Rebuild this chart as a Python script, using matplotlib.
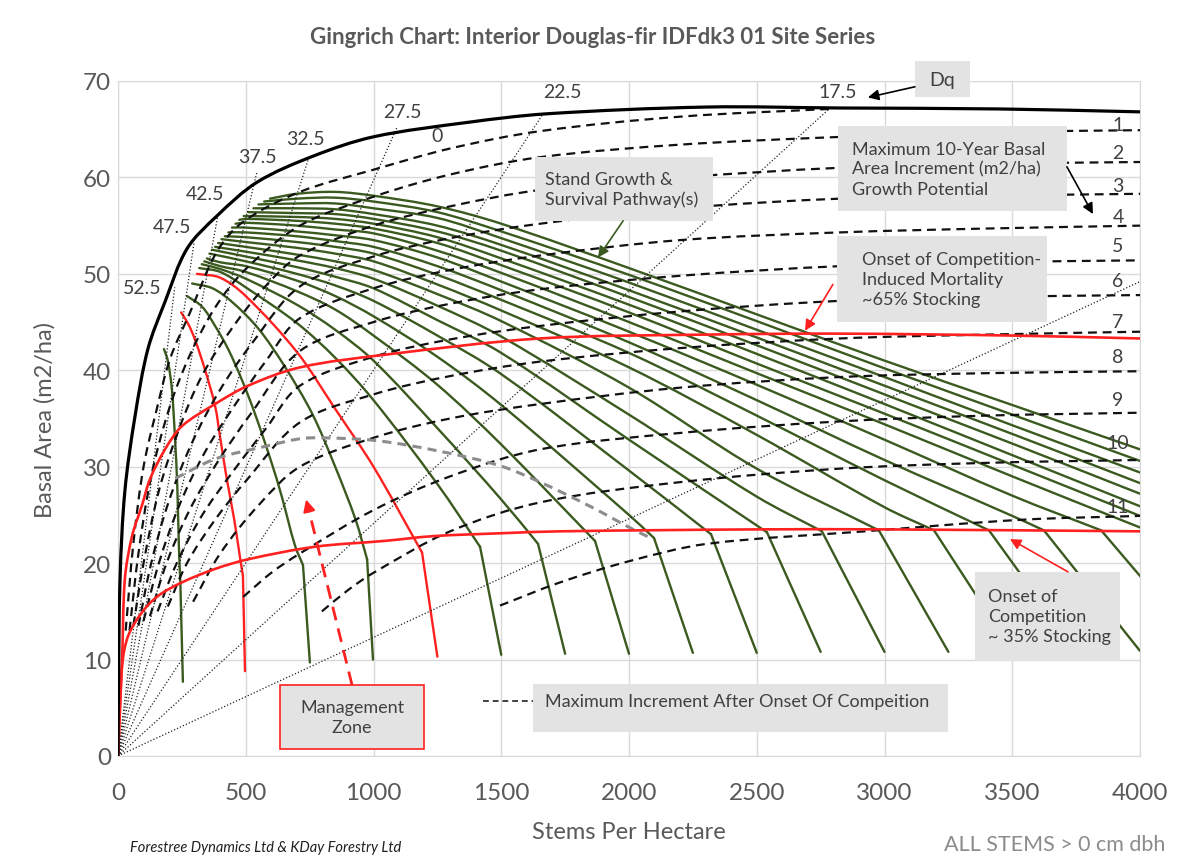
import numpy as np
import matplotlib.pyplot as plt
from matplotlib.path import Path
from matplotlib.patches import PathPatch, Rectangle

plt.rcParams['font.family'] = ['Lato', 'DejaVu Sans']

GRID = '#d9d9d9'
TXT = '#595959'
GREEN = '#3b5a1f'
RED = '#ff2020'
BOXC = '#e3e3e3'

# maximum basal area envelope
env_n = [0, 2, 8, 27, 67, 117, 184, 270, 387, 544, 763, 998, 1366, 1679, 2305, 2826, 3452, 4000]
env_ba = [0, 7, 18.4, 27.5, 35.3, 42.2, 47.1, 52.6, 56.0, 59.5, 62.2, 64.2, 65.7, 66.6, 67.3, 67.2, 67.1, 66.8]

# onset of competition-induced mortality (~65% stocking)
mort_n = [0, 16, 27, 55, 94, 125, 184, 250, 380, 509, 712, 1041, 1652, 2300, 2826, 3500, 4000]
mort_ba = [0, 10, 18.4, 22.8, 26.0, 28.7, 31.8, 34.2, 36.5, 38.4, 40.3, 41.6, 43.3, 43.7, 43.8, 43.6, 43.3]

# onset of competition (~35% stocking)
comp_n = [0, 16, 39, 94, 157, 250, 380, 509, 771, 1041, 1233, 1500, 1730, 2500, 3000, 4000]
comp_ba = [0, 9.3, 12.4, 14.9, 16.6, 18.0, 19.4, 20.4, 21.7, 22.3, 22.8, 23.1, 23.3, 23.5, 23.5, 23.3]

# quadratic mean diameter rays (cm)
dq_labels = ['52.5', '47.5', '42.5', '37.5', '32.5', '27.5', '22.5', '17.5', '12.5']
dq_end_n = [222, 298, 392, 544, 745, 1092, 1664, 2783, 4000]
dq_end_ba = [48.6, 53.3, 56.2, 60.6, 61.9, 65.2, 66.6, 67.1, 49.2]
dq_txt_n = [94, 211, 341, 544, 732, 1112, 1738, 2818, None]
dq_txt_ba = [48.6, 54.9, 58.3, 62.2, 64.0, 66.8, 68.9, 68.9, None]

# maximum 10-year basal area increment curves (m2/ha)
inc_labels = ['0', '1', '2', '3', '4', '5', '6', '7', '8', '9', '10', '11']
inc_n = [
    [30, 60, 100, 152, 204, 282, 387, 490, 712, 1000, 1300, 1652, 2200, 2783],
    [45, 80, 130, 200, 280, 380, 500, 712, 1000, 1300, 1652, 2200, 2826, 3400, 4000],
    [60, 100, 160, 240, 330, 450, 580, 712, 1000, 1300, 1652, 2200, 2826, 3400, 4000],
    [80, 130, 200, 290, 400, 530, 712, 1000, 1300, 1652, 2200, 2826, 3400, 4000],
    [100, 160, 240, 340, 460, 580, 712, 1000, 1300, 1652, 2200, 2826, 3400, 4000],
    [125, 190, 280, 390, 520, 712, 1000, 1300, 1652, 2200, 2826, 3400, 4000],
    [155, 230, 330, 450, 580, 712, 1000, 1300, 1652, 2200, 2826, 3400, 4000],
    [195, 270, 380, 500, 712, 1000, 1300, 1652, 2200, 2826, 3400, 4000],
    [294, 400, 550, 712, 1000, 1300, 1652, 2200, 2826, 3400, 4000],
    [490, 600, 712, 1000, 1300, 1652, 2200, 2826, 3400, 4000],
    [798, 900, 1000, 1300, 1652, 2200, 2826, 3400, 4000],
    [1495, 1730, 2000, 2305, 2924, 3538, 4000],
]
inc_ba = [
    [13, 22, 30, 36, 41.2, 46, 52.3, 55.4, 58.5, 60.8, 63.0, 64.8, 66.3, 67.1],
    [13, 21, 29, 36, 41.5, 46.5, 50.5, 55.0, 58.0, 60.3, 62.1, 63.4, 64.2, 64.7, 64.9],
    [13.5, 20, 27.5, 34, 39.5, 44.5, 48.8, 51.9, 55.0, 57.0, 58.7, 60.0, 61.0, 61.4, 61.6],
    [13.5, 20, 26.5, 32.5, 38, 43, 48.7, 51.8, 53.7, 55.2, 56.8, 57.8, 58.1, 58.3],
    [14, 20, 26, 31.5, 36.5, 41, 45.4, 48.5, 50.4, 51.9, 53.5, 54.3, 54.7, 55.0],
    [14.5, 20, 25.5, 30.5, 35.5, 42, 45.0, 46.9, 48.4, 49.8, 50.8, 51.2, 51.4],
    [15, 20, 25, 29.5, 34, 38.4, 41.4, 43.2, 44.6, 46.1, 47.2, 47.6, 47.8],
    [15.5, 20, 24.5, 28.5, 34.6, 37.5, 39.4, 40.9, 42.3, 43.3, 43.7, 44.0],
    [16, 21, 26, 30, 33.0, 35.0, 36.5, 38.2, 39.3, 39.7, 39.9],
    [16.5, 19, 21, 25.5, 29.0, 31.8, 33.5, 34.7, 35.3, 35.6],
    [15, 17.2, 19, 23.3, 26.3, 28.4, 29.8, 30.4, 30.7],
    [15.6, 18.0, 20.2, 22.0, 23.3, 24.5, 24.9],
]
inc_lab_ba = [None, 65.5, 62.6, 59.2, 55.9, 52.9, 49.3, 45.1, 41.4, 37.0, 32.5, 25.9]

# maximum increment after onset of competition
gray_n = [225, 380, 575, 712, 800, 1013, 1260, 1495, 1652, 1847, 2016, 2094]
gray_ba = [28.8, 30.8, 32.1, 32.9, 33.0, 32.7, 31.6, 30.1, 28.4, 25.9, 23.5, 22.5]

# low-density stand pathways: start, onset point, then pathway
low_red = [False, True, False, False]
low_base = [(254, 7.7), (497, 8.8), (751, 9.7), (998, 10.0)]
low_kink = [(244, 18.0), (489, 18.7), (724, 19.8), (975, 20.4)]
low_path_n = [
    [238, 232, 223, 211, 195, 180],
    [478, 455, 426, 400, 380, 340, 301, 275, 247],
    [693, 640, 600, 536, 485, 431, 380, 329, 270],
    [930, 850, 760, 650, 550, 450, 370, 290],
]
low_path_ba = [
    [22, 28, 33, 38, 41, 42.2],
    [20.5, 24.5, 28.7, 33.0, 36.3, 40.1, 43.2, 44.8, 46.0],
    [21.8, 27, 30.5, 35.5, 39, 42.2, 44.6, 46.6, 47.7],
    [24.5, 30, 35.5, 40.5, 44.3, 47, 48.5, 49.0],
]

# stand growth & survival pathways, N0 = 1250 ... 6250 stems/ha
pw_n0 = [1250, 1500, 1750, 2000, 2250, 2500, 2750, 3000, 3250, 3500, 3750,
         4000, 4250, 4500, 4750, 5000, 5250, 5500, 5750, 6000, 6250]
pw_base_ba = [10.3, 10.5, 10.6, 10.6, 10.7, 10.7, 10.8, 10.8, 10.8, 10.9, 10.9,
              10.9, 10.9, None, None, None, None, None, None, None, None]
pw_kink_n = [1190, 1417, 1644, 1867, 2098, 2321, 2540, 2755, 2978, 3194, 3409,
             3624, 3848, None, None, None, None, None, None, None, None]
pw_kink_ba = [21.1, 21.7, 22.0, 22.3, 22.6, 23.0, 23.2, 23.3, 23.4, 23.4, 23.4,
              23.4, 23.4, None, None, None, None, None, None, None, None]
pw_cols = [4000, 3500, 3000, 2500, 2000, 1500, 1250, 1000, 850, 700, 500, 400]
_ = None
pw_ba = [
    [_, _, _, _, _, _, _, 30.0, 36.0, 41.9, 47.7, 49.6],
    [_, _, _, _, _, _, 28.2, 36.9, 41.3, 44.9, 48.6, 50.2],
    [_, _, _, _, _, 26.6, 34.0, 41.0, 44.2, 46.8, 49.5, 50.5],
    [_, _, _, _, _, 32.3, 38.5, 43.6, 46.3, 48.2, 50.2, 50.8],
    [_, _, _, _, 25.0, 36.4, 41.4, 45.6, 47.7, 49.3, 50.8, 51.2],
    [_, _, _, _, 29.6, 39.6, 43.6, 47.2, 48.8, 50.0, 51.3, _],
    [_, _, _, _, 32.8, 41.8, 45.2, 48.5, 49.7, 50.7, 51.8, _],
    [_, _, _, 26.9, 35.4, 43.5, 46.7, 49.5, 50.6, 51.4, 52.3, _],
    [_, _, _, 29.8, 38.2, 45.1, 47.9, 50.4, 51.3, 52.0, 52.8, _],
    [_, _, 25.8, 33.3, 40.3, 46.2, 48.9, 51.3, 52.1, 52.7, 53.3, _],
    [_, _, 28.6, 35.3, 41.8, 47.3, 49.9, 52.1, 52.8, 53.3, 53.8, _],
    [_, 24.9, 30.7, 36.9, 42.9, 48.3, 50.8, 52.8, 53.4, 53.9, 54.3, _],
    [_, 27.0, 32.8, 38.5, 44.0, 49.2, 51.7, 53.5, 54.0, 54.4, 54.8, _],
    [23.7, 29.0, 34.4, 39.7, 45.0, 50.1, 52.4, 54.2, 54.6, 55.0, 55.3, _],
    [24.9, 30.2, 35.5, 40.7, 46.0, 50.9, 53.2, 54.7, 55.2, 55.5, 55.7, _],
    [25.9, 31.2, 36.5, 41.7, 46.8, 51.6, 53.8, 55.2, 55.7, 55.9, _, _],
    [27.2, 32.4, 37.5, 42.6, 47.6, 52.4, 54.4, 55.7, 56.2, 56.3, _, _],
    [28.3, 33.4, 38.4, 43.4, 48.3, 53.0, 55.0, 56.2, 56.7, 56.8, _, _],
    [29.4, 34.3, 39.3, 44.2, 49.1, 53.7, 55.8, 56.8, 57.3, 57.3, _, _],
    [30.6, 35.4, 40.2, 45.1, 49.9, 54.4, 56.4, 57.5, 57.9, 57.8, _, _],
    [31.8, 36.4, 41.0, 45.8, 50.6, 55.2, 57.0, 58.1, 58.5, 58.3, _, _],
]
pw_top_n = [309, 318, 328, 338, 348, 358, 368, 380, 392, 405, 418, 432, 446, 460, 475, 492, 510, 530, 550, 572, 595]
pw_top_ba = [50.0, 50.6, 51.0, 51.3, 51.6, 52.1, 52.5, 52.8, 53.2, 53.6, 53.9, 54.3, 54.8, 55.2, 55.6, 56.0, 56.4, 56.8, 57.2, 57.5, 57.8]

# scale used to keep curve smoothing isotropic on screen
SX, SY = 1022 / 4000, 675 / 70


def smooth_path(xs, ys):
    p = np.column_stack([np.asarray(xs, float) * SX, np.asarray(ys, float) * SY])
    n = len(p)
    if n < 3:
        return Path(np.column_stack([xs, ys]))
    d = np.hypot(*np.diff(p, axis=0).T)
    d[d == 0] = 1e-6
    m = np.zeros_like(p)
    m[0] = (p[1] - p[0]) / d[0]
    m[-1] = (p[-1] - p[-2]) / d[-1]
    for i in range(1, n - 1):
        m[i] = (p[i + 1] - p[i - 1]) / (d[i - 1] + d[i])
    verts = [p[0]]
    codes = [Path.MOVETO]
    for i in range(n - 1):
        verts += [p[i] + m[i] * d[i] / 3, p[i + 1] - m[i + 1] * d[i] / 3, p[i + 1]]
        codes += [Path.CURVE4] * 3
    v = np.array(verts)
    v[:, 0] /= SX
    v[:, 1] /= SY
    return Path(v, codes)


def curve(ax, xs, ys, **kw):
    kw.setdefault('capstyle', 'round')
    ax.add_patch(PathPatch(smooth_path(xs, ys), fill=False, **kw))


fig = plt.figure(figsize=(11.86, 8.62), dpi=100)
ax = fig.add_axes([118 / 1186, 105 / 862, 1022 / 1186, 675 / 862])
ax.set_xlim(0, 4000)
ax.set_ylim(0, 70)
ax.set_xticks(range(0, 4001, 500))
ax.set_yticks(range(0, 71, 10))
ax.grid(True, color=GRID, lw=1)
ax.set_axisbelow(True)
for sp in ax.spines.values():
    sp.set_color(GRID)
ax.tick_params(length=0, labelsize=17.5, labelcolor=TXT)
ax.tick_params(axis='x', pad=19)
ax.tick_params(axis='y', pad=5)

# pathways
for i in range(len(pw_n0)):
    col = RED if i == 0 else GREEN
    lw = 1.7
    xs, ys = [], []
    if pw_kink_n[i] is not None:
        ax.plot([pw_n0[i], pw_kink_n[i]], [pw_base_ba[i], pw_kink_ba[i]], color=col,
                lw=lw, solid_capstyle='round', zorder=2)
        xs.append(pw_kink_n[i])
        ys.append(pw_kink_ba[i])
    for c, v in zip(pw_cols, pw_ba[i]):
        if v is not None:
            xs.append(c)
            ys.append(v)
    xs.append(pw_top_n[i])
    ys.append(pw_top_ba[i])
    curve(ax, xs, ys, edgecolor=col, lw=lw, zorder=2)

for i in range(len(low_base)):
    col = RED if low_red[i] else GREEN
    (bn, bb), (kn, kb) = low_base[i], low_kink[i]
    ax.plot([bn, kn], [bb, kb], color=col, lw=1.7, solid_capstyle='round', zorder=2)
    curve(ax, [kn] + low_path_n[i], [kb] + low_path_ba[i], edgecolor=col, lw=1.7, zorder=2)

# Dq rays
for en, eb in zip(dq_end_n, dq_end_ba):
    ax.plot([0, en], [0, eb], color='#222222', lw=0.9, ls=(0, (1, 1.6)), zorder=3)
for lab, tn, tb in zip(dq_labels, dq_txt_n, dq_txt_ba):
    if tn is not None:
        ax.text(tn, tb, lab, fontsize=14, color='#404040', ha='center', va='center', zorder=7)

# increment curves
for k in range(len(inc_n)):
    curve(ax, inc_n[k], inc_ba[k], edgecolor='#111111', lw=1.6,
          linestyle=(0, (4, 2.6)), capstyle='butt', zorder=4)
    if inc_lab_ba[k] is not None:
        ax.text(3914, inc_lab_ba[k], inc_labels[k], fontsize=14, color='#404040',
                ha='center', va='center', zorder=7)
ax.text(1249, 64.3, inc_labels[0], fontsize=14, color='#404040', ha='center', va='center', zorder=7)

curve(ax, gray_n, gray_ba, edgecolor='#8c8c8c', lw=2.2, linestyle=(0, (3, 2)),
      capstyle='butt', zorder=4)

# stocking lines and envelope
curve(ax, mort_n, mort_ba, edgecolor=RED, lw=1.9, zorder=5)
curve(ax, comp_n, comp_ba, edgecolor=RED, lw=1.9, zorder=5)
curve(ax, env_n, env_ba, edgecolor='black', lw=2.3, zorder=6)


def box(x0, y0, x1, y1, ec='none'):
    ax.add_patch(Rectangle((x0, y0), x1 - x0, y1 - y0, fc=BOXC, ec=ec, lw=1.2,
                           clip_on=False, zorder=10))


def arrow(x0, y0, x1, y1, color, lw=1.2, ms=16):
    ax.annotate('', xy=(x1, y1), xytext=(x0, y0), annotation_clip=False, zorder=11,
                arrowprops=dict(arrowstyle='-|>', color=color, lw=lw,
                                mutation_scale=ms, shrinkA=0, shrinkB=0))


tkw = dict(fontsize=13, color='#404040', zorder=11, clip_on=False, linespacing=1.3)

box(3119, 68.3, 3335, 72.1)
ax.text(3225, 70.2, 'Dq', ha='center', va='center', **{**tkw, 'fontsize': 14})
arrow(3119, 69.4, 2935, 68.3, 'black')

box(1632, 55.5, 2329, 62.1)
ax.text(1671, 58.8, 'Stand Growth &\nSurvival Pathway(s)', ha='left', va='center', **tkw)
arrow(1977, 55.5, 1879, 51.7, GREEN)

box(2818, 56.5, 3714, 65.3)
ax.text(2873, 60.9, 'Maximum 10-Year Basal\nArea Increment (m2/ha)\nGrowth Potential',
        ha='left', va='center', **tkw)
arrow(3714, 61.1, 3816, 56.2, 'black')

box(2814, 45.0, 3636, 53.9)
ax.text(2912, 49.5, 'Onset of Competition-\nInduced Mortality\n~65% Stocking',
        ha='left', va='center', **tkw)
arrow(2798, 48.9, 2689, 44.1, RED)

box(3354, 9.85, 3922, 19.1)
ax.text(3405, 14.5, 'Onset of\nCompetition\n~ 35% Stocking', ha='left', va='center', **tkw)
arrow(3718, 19.1, 3491, 22.5, RED)

box(634, 0.73, 1198, 7.36, ec=RED)
ax.text(916, 4.0, 'Management\nZone', ha='center', va='center', **tkw)
ax.plot([916, 745], [7.36, 25.7], color=RED, lw=2, ls=(0, (5, 3)), zorder=9)
arrow(745, 25.7, 736, 26.6, RED, lw=1.5, ms=18)

box(1624, 2.49, 3249, 7.47)
ax.plot([1429, 1624], [5.7, 5.7], color='#404040', lw=1.4, ls=(0, (3, 2)),
        clip_on=False, zorder=11)
ax.text(1671, 5.7, 'Maximum Increment After Onset Of Compeition', ha='left',
        va='center', **tkw)

fig.text(0.5, 1 - 37 / 862, 'Gingrich Chart: Interior Douglas-fir IDFdk3 01 Site Series',
         ha='center', va='center', fontsize=16, fontweight='bold', color=TXT)
fig.text(629 / 1186, 1 - 833 / 862, 'Stems Per Hectare', ha='center', va='center',
         fontsize=17, color=TXT)
fig.text(45 / 1186, 1 - 420 / 862, 'Basal Area (m2/ha)', ha='center', va='center',
         rotation=90, fontsize=17, color=TXT)
fig.text(130 / 1186, 1 - 848 / 862, 'Forestree Dynamics Ltd & KDay Forestry Ltd',
         ha='left', va='center', fontsize=10.5, style='italic', color='#202020')
fig.text(1165 / 1186, 1 - 845 / 862, 'ALL STEMS > 0 cm dbh', ha='right', va='center',
         fontsize=15.5, color='#8c8c8c')

fig.savefig('out.png', dpi=100)
